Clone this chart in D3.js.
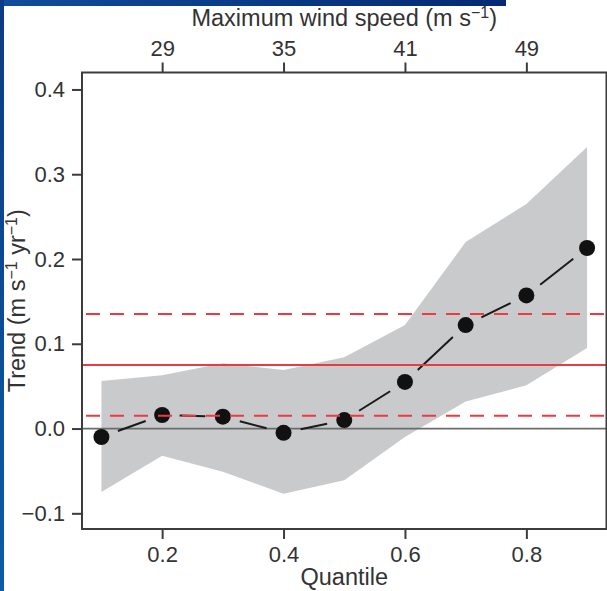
<!DOCTYPE html>
<html>
<head>
<meta charset="utf-8">
<script src="https://cdn.jsdelivr.net/npm/d3@7"></script>
<style>
  body { margin: 0; background: #fff; }
  svg { display: block; font-family: "Liberation Sans", Arial, sans-serif; }
</style>
</head>
<body>
<svg width="607" height="591"></svg>
<script>
// Data
const quantiles = [0.1, 0.2, 0.3, 0.4, 0.5, 0.6, 0.7, 0.8, 0.9];
const trend = [-0.010, 0.016, 0.014, -0.005, 0.010, 0.055, 0.122, 0.157, 0.213];
const upper = [0.056, 0.063, 0.077, 0.069, 0.084, 0.122, 0.220, 0.265, 0.332];
const lower = [-0.075, -0.032, -0.051, -0.077, -0.061, -0.010, 0.032, 0.051, 0.095];

// Mean trend and its confidence limits (red lines)
const meanTrend = 0.075;
const meanLimits = [0.015, 0.135];

// Ticks
const yTicks = [-0.1, 0, 0.1, 0.2, 0.3, 0.4];
const xTicks = [0.2, 0.4, 0.6, 0.8];
const windLabels = ["29", "35", "41", "49"];

const svg = d3.select("svg");
const tickFont = 22;
const titleFont = 23.5;

// Blue frame strips of the page the figure was cut from
const defs = svg.append("defs");
const gl = defs.append("linearGradient").attr("id", "leftBlue")
    .attr("x1", "0%").attr("x2", "0%").attr("y1", "0%").attr("y2", "100%");
gl.append("stop").attr("offset", "0%").attr("stop-color", "#0d3a86");
gl.append("stop").attr("offset", "100%").attr("stop-color", "#0a5da6");
const gt = defs.append("linearGradient").attr("id", "topBlue")
    .attr("x1", "0%").attr("x2", "100%").attr("y1", "0%").attr("y2", "0%");
gt.append("stop").attr("offset", "0%").attr("stop-color", "#114c9a");
gt.append("stop").attr("offset", "100%").attr("stop-color", "#032a72");

svg.append("rect").attr("x", 0).attr("y", 0).attr("width", 506).attr("height", 6)
    .attr("fill", "url(#topBlue)");
svg.append("rect").attr("x", 0).attr("y", 0).attr("width", 4).attr("height", 591)
    .attr("fill", "url(#leftBlue)");

// Scales
const x = d3.scaleLinear().domain([0.068, 0.932]).range([82, 606.5]);
const y = d3.scaleLinear().domain([-0.1185, 0.42]).range([529, 72.5]);

const rows = quantiles.map((q, i) => ({ q: q, t: trend[i], hi: upper[i], lo: lower[i] }));

// Confidence band
const area = d3.area()
    .x(d => x(d.q))
    .y0(d => y(d.lo))
    .y1(d => y(d.hi));
svg.append("path").datum(rows)
    .attr("d", area)
    .attr("fill", "#c9cacc");

// Zero line
svg.append("line")
    .attr("x1", x.range()[0]).attr("x2", x.range()[1])
    .attr("y1", y(0)).attr("y2", y(0))
    .attr("stroke", "#6b6b6b").attr("stroke-width", 1.8);

// Connecting segments with gaps around points (type "b")
const gap = 17.5;
for (let i = 0; i < rows.length - 1; i++) {
    const x1 = x(rows[i].q), y1 = y(rows[i].t);
    const x2 = x(rows[i + 1].q), y2 = y(rows[i + 1].t);
    const len = Math.hypot(x2 - x1, y2 - y1);
    const ux = (x2 - x1) / len, uy = (y2 - y1) / len;
    svg.append("line")
        .attr("x1", x1 + ux * gap).attr("y1", y1 + uy * gap)
        .attr("x2", x2 - ux * gap).attr("y2", y2 - uy * gap)
        .attr("stroke", "#1a1a1a").attr("stroke-width", 2);
}

// Points
svg.selectAll(".pt")
    .data(rows)
    .enter().append("circle")
    .attr("class", "pt")
    .attr("cx", d => x(d.q))
    .attr("cy", d => y(d.t))
    .attr("r", 8)
    .attr("fill", "#111");

// Red lines: mean trend and limits
svg.append("line")
    .attr("x1", x.range()[0]).attr("x2", x.range()[1])
    .attr("y1", y(meanTrend)).attr("y2", y(meanTrend))
    .attr("stroke", "#ec3b40").attr("stroke-width", 2);
meanLimits.forEach(v => {
    svg.append("line")
        .attr("x1", x.range()[0]).attr("x2", x.range()[1])
        .attr("y1", y(v)).attr("y2", y(v))
        .attr("stroke", "#ec3b40").attr("stroke-width", 2)
        .attr("stroke-dasharray", "14,10")
        .attr("stroke-dashoffset", -4);
});

// Plot frame
svg.append("rect")
    .attr("x", x.range()[0]).attr("y", y.range()[1])
    .attr("width", x.range()[1] - x.range()[0])
    .attr("height", y.range()[0] - y.range()[1])
    .attr("fill", "none").attr("stroke", "#3c3c3c").attr("stroke-width", 2);

// Axes
const styleAxis = g => {
    g.select(".domain").remove();
    g.selectAll(".tick line").attr("stroke", "#3c3c3c").attr("stroke-width", 2);
    g.selectAll(".tick text").attr("fill", "#333").style("font-size", tickFont + "px")
        .style("font-family", "'Liberation Sans', Arial, sans-serif");
};

svg.append("g")
    .attr("transform", `translate(${x.range()[0]},0)`)
    .call(d3.axisLeft(y).tickValues(yTicks).tickFormat(d3.format(".1f"))
        .tickSize(10).tickPadding(7))
    .call(styleAxis);

svg.append("g")
    .attr("transform", `translate(0,${y.range()[0]})`)
    .call(d3.axisBottom(x).tickValues(xTicks).tickFormat(d3.format(".1f"))
        .tickSize(10).tickPadding(7))
    .call(styleAxis);

svg.append("g")
    .attr("transform", `translate(0,${y.range()[1]})`)
    .call(d3.axisTop(x).tickValues(xTicks).tickFormat((d, i) => windLabels[i])
        .tickSize(10).tickPadding(7))
    .call(styleAxis);

// Axis titles
const cx = (x.range()[0] + x.range()[1]) / 2;
const supSize = "16px";

const topTitle = svg.append("text")
    .attr("x", cx).attr("y", 26)
    .attr("text-anchor", "middle")
    .attr("fill", "#333").style("font-size", titleFont + "px");
topTitle.append("tspan").text("Maximum wind speed (m s");
topTitle.append("tspan").attr("dy", -8).style("font-size", supSize).text("\u22121");
topTitle.append("tspan").attr("dy", 8).text(")");

svg.append("text")
    .attr("x", cx).attr("y", 585)
    .attr("text-anchor", "middle")
    .attr("fill", "#333").style("font-size", titleFont + "px")
    .text("Quantile");

const yTitle = svg.append("text")
    .attr("transform", `translate(25,${(y.range()[0] + y.range()[1]) / 2}) rotate(-90)`)
    .attr("text-anchor", "middle")
    .attr("fill", "#333").style("font-size", titleFont + "px");
yTitle.append("tspan").text("Trend (m s");
yTitle.append("tspan").attr("dy", -8).style("font-size", supSize).text("\u22121");
yTitle.append("tspan").attr("dy", 8).text(" yr");
yTitle.append("tspan").attr("dy", -8).style("font-size", supSize).text("\u22121");
yTitle.append("tspan").attr("dy", 8).text(")");
</script>
</body>
</html>
